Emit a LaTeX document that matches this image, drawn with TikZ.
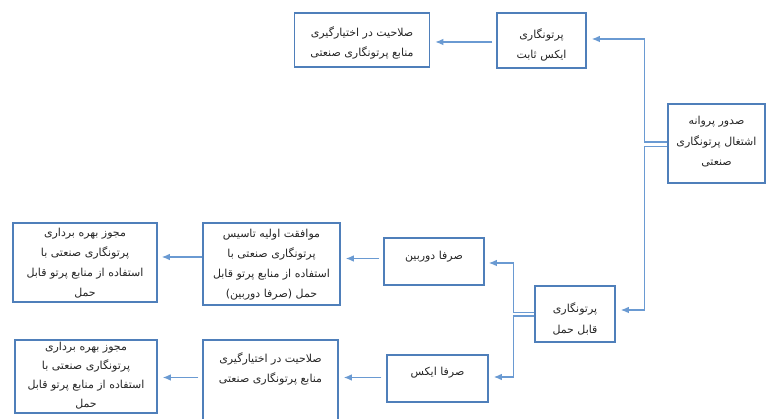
\documentclass[tikz,border=0pt]{standalone}
\usepackage{fontspec}
\newfontfamily\fa[Script=Arabic]{DejaVu Sans}
\TeXXeTstate=1
\usetikzlibrary{arrows.meta,calc}
\definecolor{boxc}{HTML}{4F7FBA}
\definecolor{linec}{HTML}{6A9AD2}
\definecolor{txtc}{HTML}{262626}
\newcommand\rl[1]{\beginR #1\endR}
\begin{document}
\begin{tikzpicture}[x=1pt,y=-1pt,
  box/.style={draw=boxc,line width=1.5pt,inner sep=0pt,fill=white},
  txt/.style={align=center,inner sep=0pt,text=txtc,font=\fa\fontsize{11}{20.5}\selectfont},
  conn/.style={draw=linec,line width=1.3pt},
  arr/.style={conn,-{Latex[length=8pt,width=6.5pt]}}]
\clip (0,0) rectangle (768,419);
\fill[white] (0,0) rectangle (768,419);
% boxes
\node[box,minimum width=135pt,minimum height=54pt] (A) at (362,40) {};
\node[box,minimum width=89pt,minimum height=55pt] (B) at (541.5,40.5) {};
\node[box,minimum width=97pt,minimum height=79pt] (C) at (716.5,143.5) {};
\node[box,minimum width=80pt,minimum height=56pt] (D) at (575,314) {};
\node[box,minimum width=100pt,minimum height=47pt] (E) at (434,261.5) {};
\node[box,minimum width=137pt,minimum height=82pt] (F) at (271.5,264) {};
\node[box,minimum width=144pt,minimum height=79pt] (G) at (85,262.5) {};
\node[box,minimum width=101pt,minimum height=47pt] (H) at (437.5,378.5) {};
\node[box,minimum width=135pt,minimum height=100pt] (I) at (270.5,390) {};
\node[box,minimum width=142pt,minimum height=73pt] (J) at (86,376.5) {};
% texts
\node[txt] (At) at (362,43) {\rl{صلاحیت در اختیارگیری}\\\rl{منابع پرتونگاری صنعتی}};
\node[txt] (Bt) at (541.5,45) {\rl{پرتونگاری}\\\rl{ایکس ثابت}};
\node[txt] (Ct) at (716.5,142) {\rl{صدور پروانه}\\\rl{اشتغال پرتونگاری}\\\rl{صنعتی}};
\node[txt] (Dt) at (575,319) {\rl{پرتونگاری}\\\rl{قابل حمل}};
\node[txt] (Et) at (434,257) {\rl{صرفا دوربین}};
\node[txt,font=\fa\fontsize{11}{20}\selectfont] (Ft) at (271.5,265) {\rl{موافقت اولیه تاسیس}\\\rl{پرتونگاری صنعتی با}\\\rl{استفاده از منابع پرتو قابل}\\\rl{حمل (صرفا دوربین)}};
\node[txt,font=\fa\fontsize{11}{20}\selectfont] (Gt) at (85,263.5) {\rl{مجوز بهره برداری}\\\rl{پرتونگاری صنعتی با}\\\rl{استفاده از منابع پرتو قابل}\\\rl{حمل}};
\node[txt] (Ht) at (437.5,373) {\rl{صرفا ایکس}};
\node[txt] (It) at (270.5,369) {\rl{صلاحیت در اختیارگیری}\\\rl{منابع پرتونگاری صنعتی}};
\node[txt,font=\fa\fontsize{11}{19}\selectfont] (Jt) at (86,376) {\rl{مجوز بهره برداری}\\\rl{پرتونگاری صنعتی با}\\\rl{استفاده از منابع پرتو قابل}\\\rl{حمل}};
% junction coordinates
\coordinate (jC) at (644.5,0);
\coordinate (jD) at (513.5,0);
% connectors
\draw[arr] ($(B.west)+(-4,1.5)$) -- ($(A.east |- B.west)+(5,1.5)$);
\draw[arr] ($(C.west)+(0,-1.5)$) -| ($(jC |- B.east)+(0,-1.5)$) -- ($(B.east)+(5,-1.5)$);
\draw[arr] ($(C.west)+(0,3)$) -| ($(jC |- D.east)+(0,-4)$) -- ($(D.east)+(5,-4)$);
\draw[arr] ($(D.west)+(0,-1.5)$) -| ($(jD |- E.east)+(0,1.5)$) -- ($(E.east)+(4,1.5)$);
\draw[arr] ($(D.west)+(0,2)$) -| ($(jD |- H.east)+(0,-1.5)$) -- ($(H.east)+(5,-1.5)$);
\draw[arr] ($(E.west)+(-4,-3)$) -- ($(F.east |- E.west)+(5,-3)$);
\draw[arr] ($(F.west)+(0,-7)$) -- ($(G.east |- F.west)+(4,-7)$);
\draw[arr] ($(H.west)+(-5,-1)$) -- ($(I.east |- H.west)+(5,-1)$);
\draw[arr] ($(I.west)+(-4,-12.5)$) -- ($(J.east |- I.west)+(5,-12.5)$);
\end{tikzpicture}
\end{document}
